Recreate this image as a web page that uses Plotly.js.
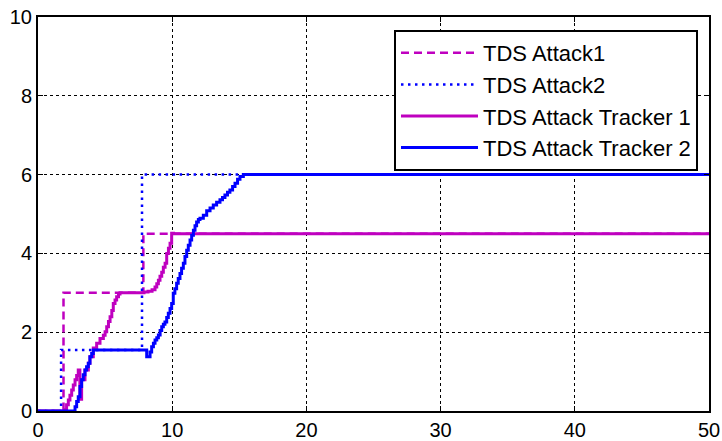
<!DOCTYPE html>
<html>
<head>
<meta charset="utf-8">
<script src="https://cdn.plot.ly/plotly-3.0.1.min.js"></script>
<style>html,body{margin:0;padding:0;background:#fff;}#chart{width:722px;height:441px;}</style>
</head>
<body>
<div id="chart"></div>
<script>
// TDS Attack1 (step reference)
const attack1X = [0, 1.9, 1.9, 7.85, 7.85, 50];
const attack1Y = [0, 0, 3.0, 3.0, 4.5, 4.5];
// TDS Attack2 (step reference)
const attack2X = [0, 1.72, 1.72, 7.75, 7.75, 50];
const attack2Y = [0, 0, 1.55, 1.55, 6.0, 6.0];
// TDS Attack Tracker 1
const tracker1X = [0, 2.0, 2.13, 2.26, 2.38, 2.51, 2.63, 2.76, 2.88, 3.0, 3.1, 3.12, 3.25, 3.5, 3.75, 3.87, 4.12, 4.37, 4.62, 4.87, 5.0, 5.12, 5.25, 5.37, 5.5, 5.61, 5.74, 5.86, 6.0, 6.11, 7.9, 8.2, 8.5, 8.72, 8.85, 8.97, 9.09, 9.22, 9.34, 9.47, 9.59, 9.72, 9.84, 9.96, 10.1, 50];
const tracker1Y = [0, 0.03, 0.16, 0.28, 0.4, 0.53, 0.66, 0.79, 0.9, 1.04, 1.04, 0.3, 0.79, 1.04, 1.21, 1.38, 1.6, 1.72, 1.84, 1.92, 2.01, 2.14, 2.27, 2.39, 2.55, 2.73, 2.82, 2.9, 2.97, 3.0, 3.02, 3.04, 3.08, 3.15, 3.23, 3.32, 3.42, 3.52, 3.65, 3.75, 4.0, 4.13, 4.26, 4.51, 4.5, 4.5];
// TDS Attack Tracker 2
const tracker2X = [0, 2.63, 2.76, 2.88, 3.0, 3.13, 3.25, 3.37, 3.5, 3.62, 3.75, 3.87, 4.0, 4.12, 7.97, 8.1, 8.22, 8.35, 8.47, 8.6, 8.72, 8.85, 8.97, 9.1, 9.22, 9.34, 9.46, 9.59, 9.71, 9.84, 9.96, 10.08, 10.2, 10.33, 10.45, 10.58, 10.7, 10.83, 10.95, 11.08, 11.2, 11.33, 11.45, 11.58, 11.7, 11.82, 11.95, 12.07, 12.32, 12.57, 12.82, 13.06, 13.31, 13.56, 13.75, 13.93, 14.12, 14.3, 14.5, 14.68, 14.87, 15.05, 15.3, 50];
const tracker2Y = [0, 0, 0.11, 0.24, 0.36, 0.62, 0.79, 0.92, 1.04, 1.12, 1.21, 1.38, 1.46, 1.55, 1.55, 1.38, 1.38, 1.5, 1.63, 1.72, 1.8, 1.86, 1.93, 2.04, 2.14, 2.2, 2.26, 2.37, 2.48, 2.6, 2.73, 2.99, 3.1, 3.24, 3.36, 3.49, 3.62, 3.75, 3.92, 4.08, 4.21, 4.34, 4.46, 4.59, 4.7, 4.8, 4.86, 4.89, 4.97, 5.08, 5.15, 5.23, 5.3, 5.36, 5.42, 5.48, 5.55, 5.61, 5.7, 5.78, 5.88, 5.95, 6.0, 6.0];

const seriesNames = ['TDS Attack1', 'TDS Attack2', 'TDS Attack Tracker 1', 'TDS Attack Tracker 2'];
const xTicks = [0, 10, 20, 30, 40, 50];
const yTicks = [0, 2, 4, 6, 8, 10];

const magenta = '#bf00bf';
const blue = '#0000ff';

const traces = [
  {x: attack1X, y: attack1Y, name: seriesNames[0], mode: 'lines', line: {color: magenta, width: 2.5, dash: '8px,5px'}},
  {x: attack2X, y: attack2Y, name: seriesNames[1], mode: 'lines', line: {color: blue, width: 2.5, dash: '2.5px,4.5px'}},
  {x: tracker1X, y: tracker1Y, name: seriesNames[2], mode: 'lines', line: {color: magenta, width: 3, shape: 'hv'}},
  {x: tracker2X, y: tracker2Y, name: seriesNames[3], mode: 'lines', line: {color: blue, width: 3, shape: 'hv'}}
];

const axisCommon = {
  showline: true, linecolor: '#000', linewidth: 2, mirror: 'ticks',
  ticks: 'inside', ticklen: 5, tickcolor: '#000', tickwidth: 1,
  showgrid: true, gridcolor: '#000', gridwidth: 1, griddash: 'dot',
  zeroline: false,
  tickfont: {family: 'Liberation Sans, Arial, sans-serif', size: 20, color: '#000'}
};

const layout = {
  width: 722, height: 441,
  margin: {l: 38, r: 13, t: 17, b: 30},
  paper_bgcolor: '#fff', plot_bgcolor: '#fff',
  showlegend: true,
  legend: {
    x: 0.9836, y: 0.967, xanchor: 'right', yanchor: 'top',
    bgcolor: '#fff', bordercolor: '#000', borderwidth: 2,
    font: {family: 'Liberation Sans, Arial, sans-serif', size: 22, color: '#000'},
    tracegroupgap: 0, itemwidth: 77
  },
  xaxis: Object.assign({}, axisCommon, {range: [0, 50], tickvals: xTicks, ticktext: xTicks.map(String)}),
  yaxis: Object.assign({}, axisCommon, {range: [0, 10], tickvals: yTicks, ticktext: yTicks.map(String)})
};

Plotly.newPlot('chart', traces, layout, {displayModeBar: false, staticPlot: true});
</script>
</body>
</html>
